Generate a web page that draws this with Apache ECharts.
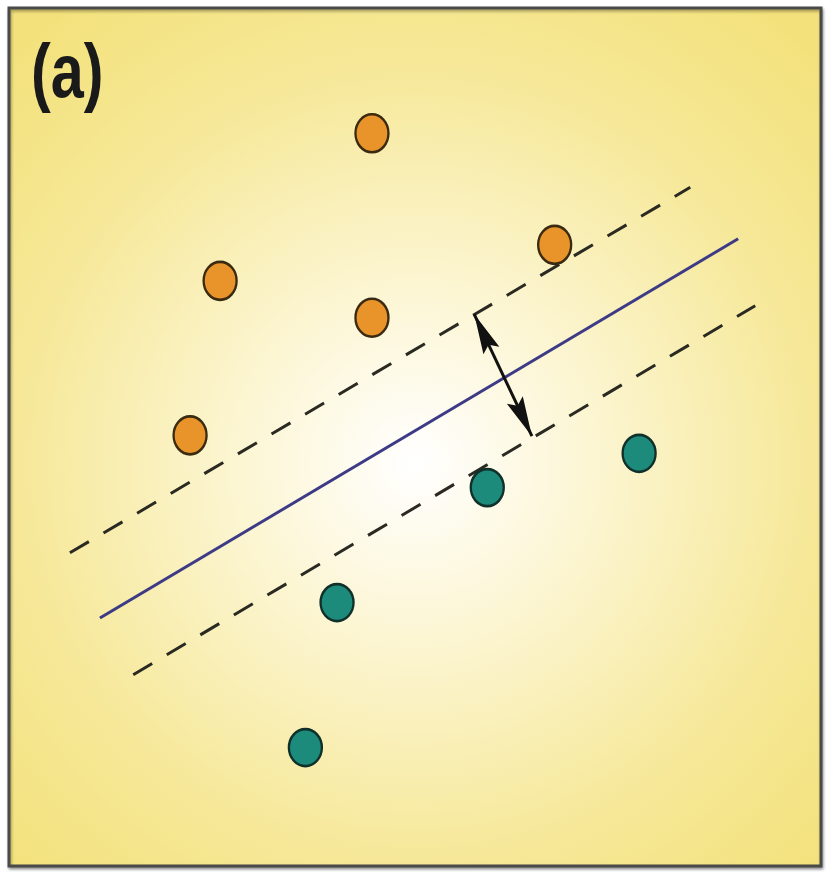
<!DOCTYPE html>
<html>
<head>
<meta charset="utf-8">
<script src="https://cdn.jsdelivr.net/npm/echarts@6/dist/echarts.min.js"></script>
<style>html,body{margin:0;padding:0;background:#fff;}#c{width:827px;height:879px;}</style>
</head>
<body>
<div id="c"></div>
<script>
// Data (arbitrary units, 0-100 on each axis, y up)
var panelLabel = "(a)";
var classAx = [44.7, 26.0, 44.7, 67.2, 22.3];
var classAy = [85.4, 68.2, 63.9, 72.4, 50.2];
var classBx = [77.6, 58.9, 40.4, 36.5];
var classBy = [48.1, 44.1, 30.7, 13.8];
var boundaryX = [11.2, 89.8];
var boundaryY = [28.9, 73.1];
var upperMarginX = [7.5, 83.9];
var upperMarginY = [36.5, 79.1];
var lowerMarginX = [15.3, 91.9];
var lowerMarginY = [22.3, 65.3];
var arrowX = [57.3, 64.4];
var arrowY = [64.3, 50.1];

function pairs(xs, ys) { return xs.map(function (x, i) { return [x, ys[i]]; }); }

// arrowhead: tip at the symbol centre, pointing up
var arrowHead = 'path://M0,0 M100,0 M50,50 L61,100 L50,92 L39,100 Z';

var chart = echarts.init(document.getElementById('c'), null, { renderer: 'canvas' });
chart.setOption({
  animation: false,
  backgroundColor: '#ffffff',
  grid: {
    left: 9, top: 8, width: 812, height: 858,
    show: true,
    borderColor: '#4a4a48', borderWidth: 3,
    shadowColor: 'rgba(0,0,0,0.35)', shadowBlur: 3, shadowOffsetX: 1, shadowOffsetY: 2,
    backgroundColor: {
      type: 'radial', x: 0.5, y: 0.53, r: 0.7,
      colorStops: [
        { offset: 0, color: '#ffffff' },
        { offset: 0.3, color: '#fcf6d4' },
        { offset: 0.7, color: '#f6e898' },
        { offset: 1, color: '#f3e27c' }
      ]
    }
  },
  xAxis: { type: 'value', min: 0, max: 100, show: false },
  yAxis: { type: 'value', min: 0, max: 100, show: false },
  graphic: [{
    type: 'text', left: 31, top: 38, z: 10,
    scaleX: 0.78,
    style: { text: panelLabel, font: 'bold 76px "Liberation Sans", Arial, sans-serif', fill: '#1a1a1a' }
  }],
  series: [
    {
      type: 'line', data: pairs(upperMarginX, upperMarginY), symbol: 'none',
      lineStyle: { color: '#2a2a22', width: 3, type: [22, 17] }, z: 2
    },
    {
      type: 'line', data: pairs(lowerMarginX, lowerMarginY), symbol: 'none',
      lineStyle: { color: '#2a2a22', width: 3, type: [22, 17] }, z: 2
    },
    {
      type: 'line', data: pairs(boundaryX, boundaryY), symbol: 'none',
      lineStyle: { color: '#3d3a86', width: 3 }, z: 3
    },
    {
      type: 'lines', coordinateSystem: 'cartesian2d', z: 4,
      symbol: [arrowHead, arrowHead], symbolSize: 80,
      lineStyle: { color: '#111111', width: 3, opacity: 1 },
      data: [{ coords: pairs(arrowX, arrowY) }]
    },
    {
      type: 'scatter', data: pairs(classAx, classAy), symbol: 'circle', symbolSize: [33, 38], z: 5,
      itemStyle: { color: '#e8942a', borderColor: '#3a2a12', borderWidth: 2.5, opacity: 1 }
    },
    {
      type: 'scatter', data: pairs(classBx, classBy), symbol: 'circle', symbolSize: [33, 37], z: 5,
      itemStyle: { color: '#1d8b7c', borderColor: '#10302a', borderWidth: 2.5, opacity: 1 }
    }
  ]
});
</script>
</body>
</html>
